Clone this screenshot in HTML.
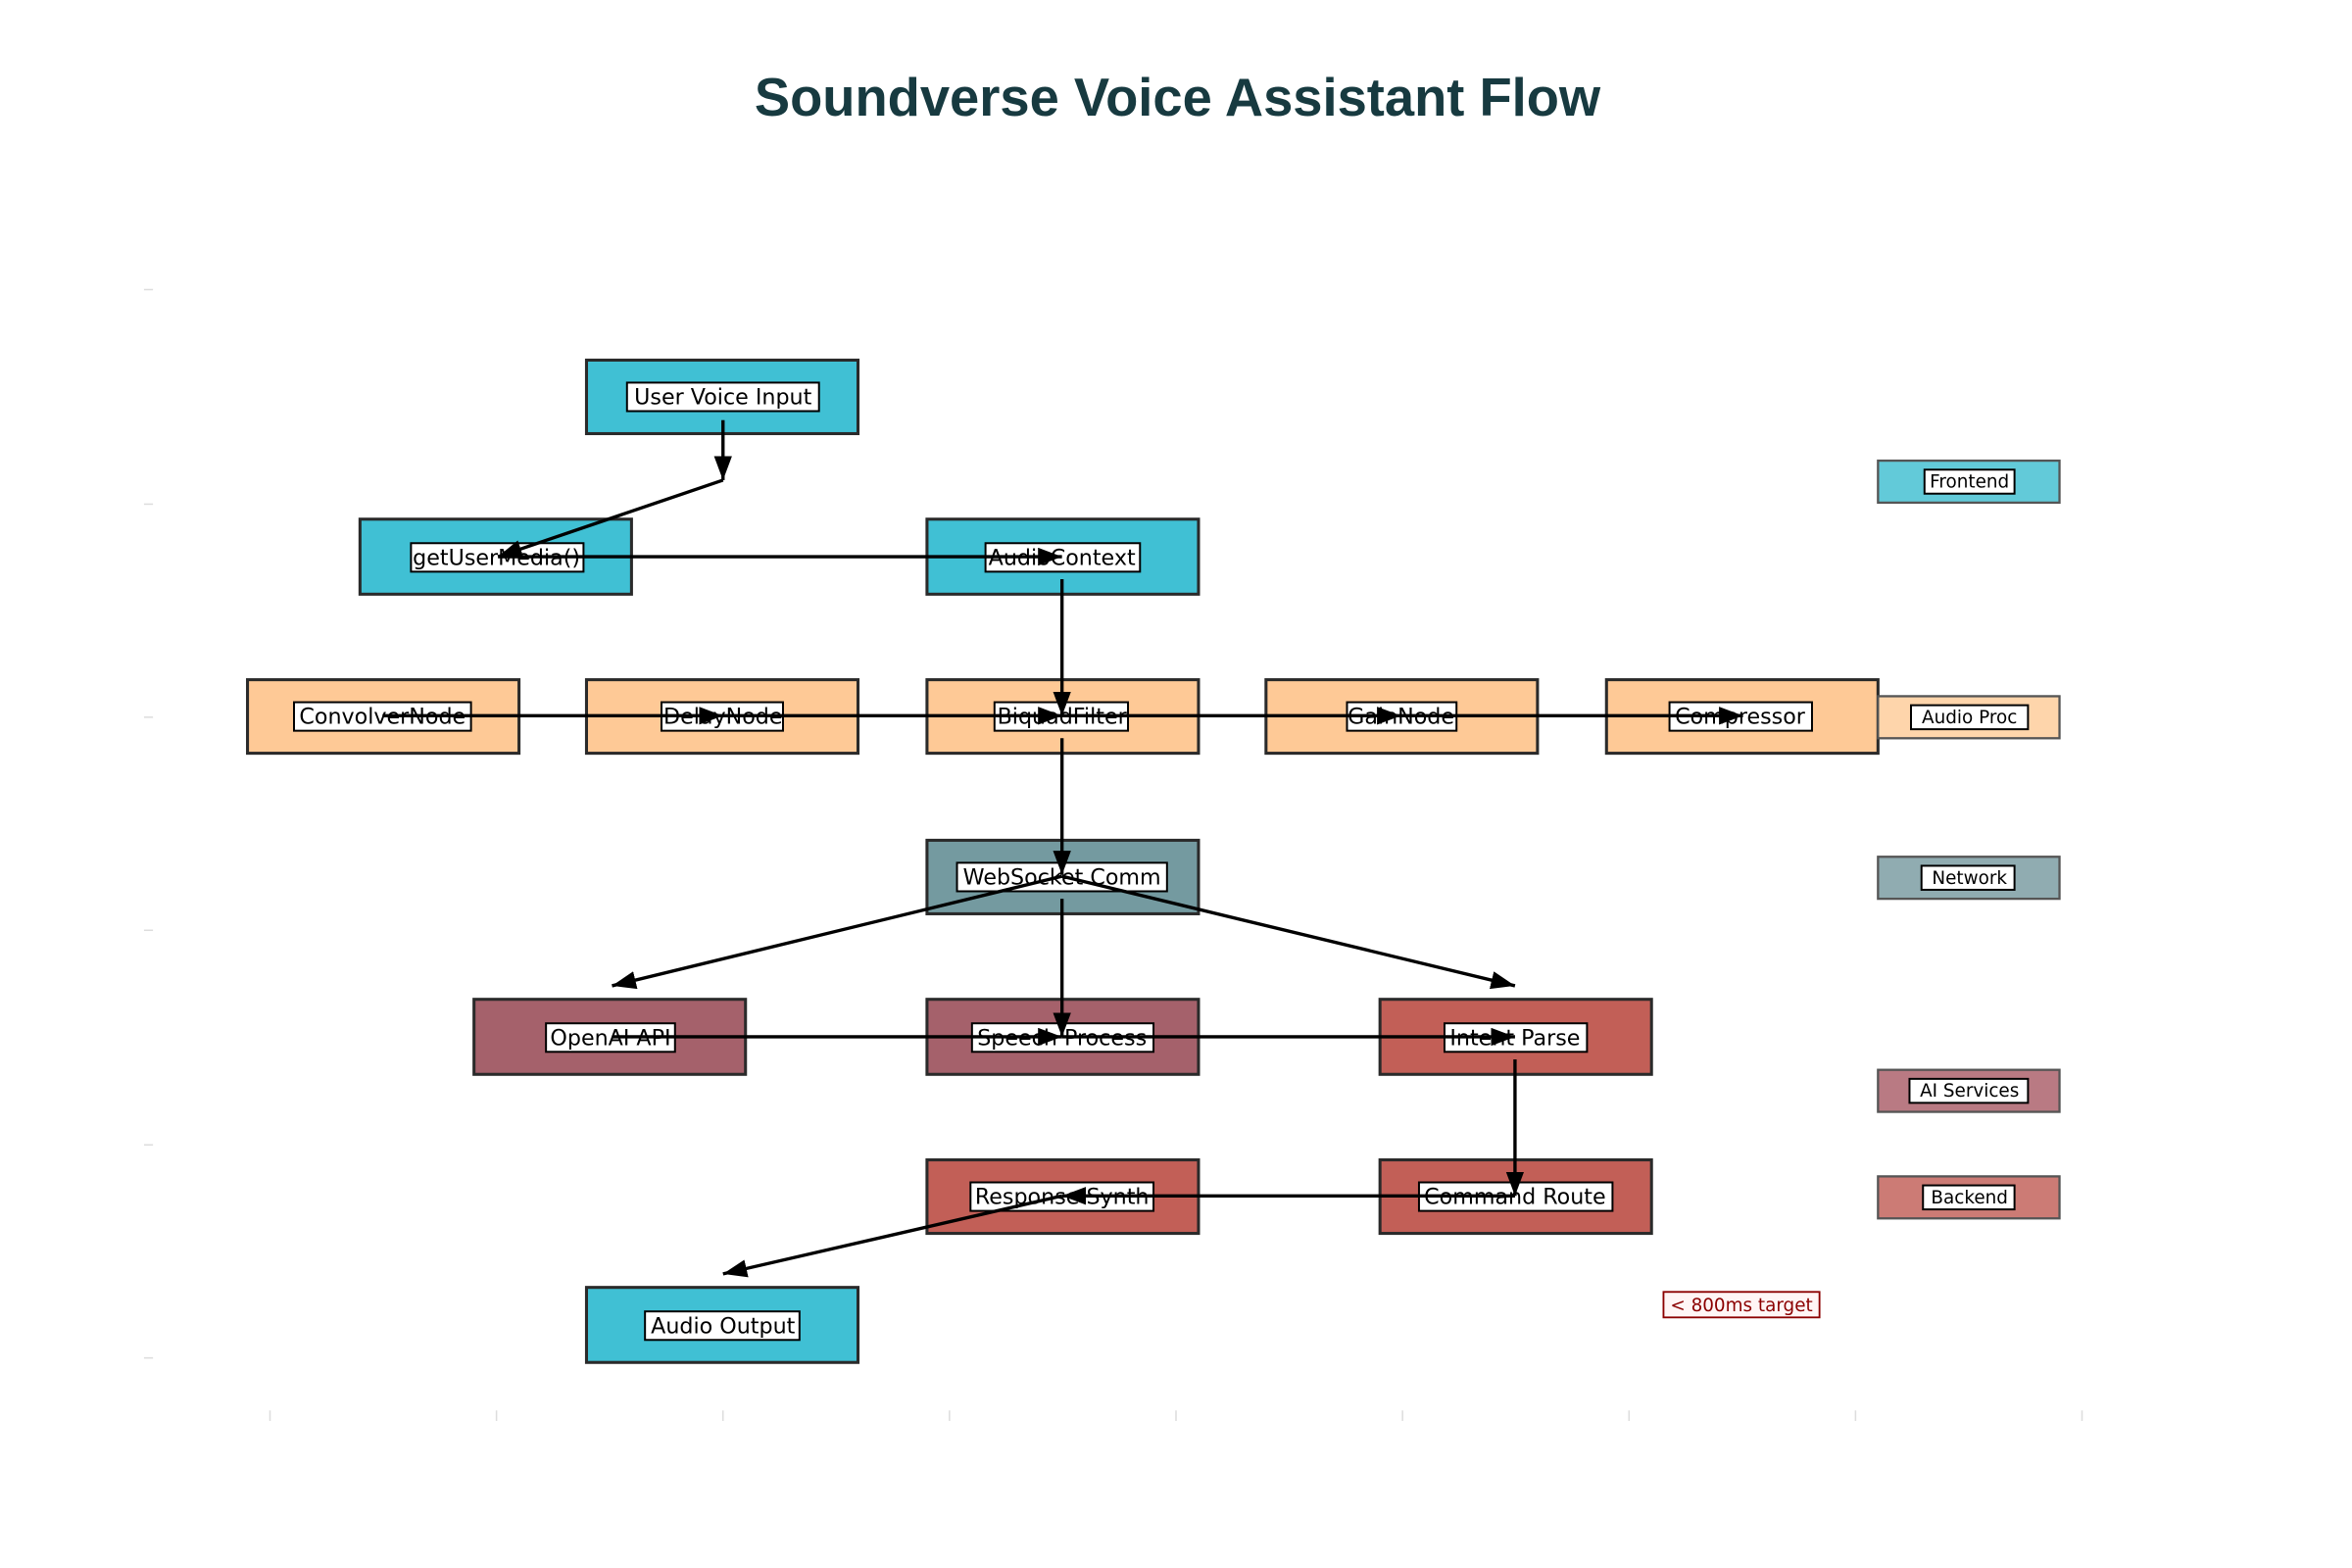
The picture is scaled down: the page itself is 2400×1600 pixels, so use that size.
<!DOCTYPE html>
<html><head><meta charset="utf-8"><style>
html,body{margin:0;padding:0;background:#fff}
svg{display:block}
text{font-family:"DejaVu Sans","Liberation Sans",sans-serif}
</style></head><body>
<svg width="2400" height="1600" viewBox="0 0 1568 1045" preserveAspectRatio="none" xmlns="http://www.w3.org/2000/svg">
<defs>
<marker id="h" viewBox="0 0 16 12" refX="16" refY="6" markerWidth="16" markerHeight="12" orient="auto" markerUnits="userSpaceOnUse"><path d="M0,0 L16,6 L0,12 z" fill="#000"/></marker></defs>
<text x="785" y="77" text-anchor="middle" font-size="35.5" font-weight="bold" fill="#173a40" style="font-family:'Liberation Sans',sans-serif">Soundverse Voice Assistant Flow</text>
<g stroke="#ddd" stroke-width="1">
<line x1="96" y1="193" x2="102" y2="193"/><line x1="96" y1="336" x2="102" y2="336"/><line x1="96" y1="478" x2="102" y2="478"/><line x1="96" y1="620" x2="102" y2="620"/><line x1="96" y1="763" x2="102" y2="763"/><line x1="96" y1="905" x2="102" y2="905"/>
<line x1="180" y1="940" x2="180" y2="947"/><line x1="331" y1="940" x2="331" y2="947"/><line x1="482" y1="940" x2="482" y2="947"/><line x1="633" y1="940" x2="633" y2="947"/><line x1="784" y1="940" x2="784" y2="947"/><line x1="935" y1="940" x2="935" y2="947"/><line x1="1086" y1="940" x2="1086" y2="947"/><line x1="1237" y1="940" x2="1237" y2="947"/><line x1="1388" y1="940" x2="1388" y2="947"/>
</g>
<g stroke="#2a2a2a" stroke-width="2">
<rect x="391" y="240" width="181" height="49" fill="#40c0d4"/>
<rect x="240" y="346" width="181" height="50" fill="#40c0d4"/>
<rect x="618" y="346" width="181" height="50" fill="#40c0d4"/>
<rect x="165" y="453" width="181" height="49" fill="#fec996"/>
<rect x="391" y="453" width="181" height="49" fill="#fec996"/>
<rect x="618" y="453" width="181" height="49" fill="#fec996"/>
<rect x="844" y="453" width="181" height="49" fill="#fec996"/>
<rect x="1071" y="453" width="181" height="49" fill="#fec996"/>
<rect x="618" y="560" width="181" height="49" fill="#749aa0"/>
<rect x="316" y="666" width="181" height="50" fill="#a5616b"/>
<rect x="618" y="666" width="181" height="50" fill="#a5616b"/>
<rect x="920" y="666" width="181" height="50" fill="#c25f57"/>
<rect x="618" y="773" width="181" height="49" fill="#c25f57"/>
<rect x="920" y="773" width="181" height="49" fill="#c25f57"/>
<rect x="391" y="858" width="181" height="50" fill="#40c0d4"/>
</g>
<g stroke="#555" stroke-width="1.5">
<rect x="1252" y="307" width="121" height="28" fill="#62cad9"/>
<rect x="1252" y="464" width="121" height="28" fill="#fed5ab"/>
<rect x="1252" y="571" width="121" height="28" fill="#90acb1"/>
<rect x="1252" y="713" width="121" height="28" fill="#b97a83"/>
<rect x="1252" y="784" width="121" height="28" fill="#cc7b75"/>
</g>
<g fill="#fff" stroke="#000" stroke-width="1.3">
<rect x="418" y="255" width="128" height="19"/>
<rect x="274" y="362" width="115" height="19"/>
<rect x="657" y="362" width="103" height="19"/>
<rect x="196" y="468" width="118" height="19"/>
<rect x="441" y="468" width="81" height="19"/>
<rect x="663" y="468" width="89" height="19"/>
<rect x="898" y="468" width="73" height="19"/>
<rect x="1113" y="468" width="95" height="19"/>
<rect x="638" y="575" width="140" height="19"/>
<rect x="364" y="682" width="86" height="19"/>
<rect x="648" y="682" width="121" height="19"/>
<rect x="963" y="682" width="95" height="19"/>
<rect x="647" y="788" width="122" height="19"/>
<rect x="946" y="788" width="129" height="19"/>
<rect x="430" y="874" width="103" height="19"/>
<rect x="1283" y="313" width="60" height="16"/>
<rect x="1274" y="470" width="78" height="16"/>
<rect x="1281" y="577" width="62" height="16"/>
<rect x="1273" y="719" width="79" height="16"/>
<rect x="1282" y="790" width="61" height="16"/>
</g>
<rect x="1109" y="861" width="104" height="17" fill="#fff5f5" stroke="#8b0000" stroke-width="1.2"/>
<g font-size="14.5" text-anchor="middle" fill="#000">
<text x="482" y="269.5">User Voice Input</text>
<text x="331" y="376.5">getUserMedia()</text>
<text x="708" y="376.5">AudioContext</text>
<text x="255" y="482.5">ConvolverNode</text>
<text x="482" y="482.5">DelayNode</text>
<text x="708" y="482.5">BiquadFilter</text>
<text x="934" y="482.5">GainNode</text>
<text x="1160" y="482.5">Compressor</text>
<text x="708" y="589.5">WebSocket Comm</text>
<text x="407" y="696.5">OpenAI API</text>
<text x="708" y="696.5">Speech Process</text>
<text x="1010" y="696.5">Intent Parse</text>
<text x="708" y="802.5">Response Synth</text>
<text x="1010" y="802.5">Command Route</text>
<text x="482" y="888.5">Audio Output</text>
</g>
<g font-size="12" text-anchor="middle" fill="#000">
<text x="1313" y="325">Frontend</text>
<text x="1313" y="482">Audio Proc</text>
<text x="1313" y="589">Network</text>
<text x="1313" y="731">AI Services</text>
<text x="1313" y="802">Backend</text>
</g>
<text x="1161" y="874" font-size="12" text-anchor="middle" fill="#8b0000">&lt; 800ms target</text>
<g stroke="#000" stroke-width="2.2" fill="none" marker-end="url(#h)">
<line x1="482" y1="280" x2="482" y2="320"/>
<line x1="482" y1="320" x2="332" y2="371"/>
<line x1="332" y1="371" x2="708" y2="371"/>
<line x1="708" y1="386" x2="708" y2="477"/>
<line x1="255" y1="477" x2="482" y2="477"/>
<line x1="482" y1="477" x2="708" y2="477"/>
<line x1="708" y1="477" x2="934" y2="477"/>
<line x1="934" y1="477" x2="1162" y2="477"/>
<line x1="708" y1="492" x2="708" y2="583"/>
<line x1="708" y1="584" x2="408" y2="657"/>
<line x1="708" y1="584" x2="1010" y2="657"/>
<line x1="708" y1="599" x2="708" y2="691"/>
<line x1="408" y1="691" x2="708" y2="691"/>
<line x1="708" y1="691" x2="1010" y2="691"/>
<line x1="1010" y1="706" x2="1010" y2="797"/>
<line x1="1010" y1="797" x2="708" y2="797"/>
<line x1="708" y1="797" x2="482" y2="849"/>
</g>
</svg>
</body></html>
